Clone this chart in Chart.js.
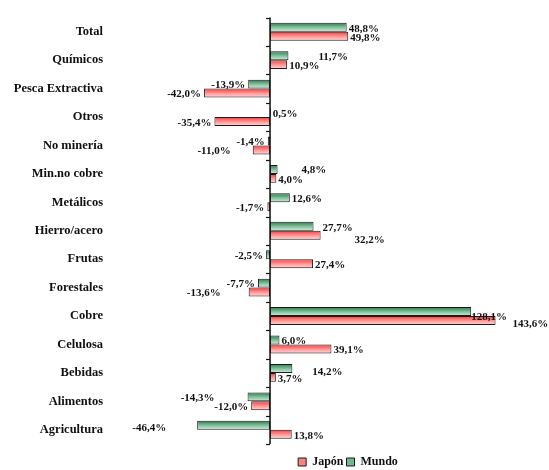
<!DOCTYPE html>
<html><head><meta charset="utf-8">
<script src="https://cdn.jsdelivr.net/npm/chart.js@4"></script>
<style>html,body{margin:0;padding:0;background:#fff}#wrap{width:549px;height:470px;position:relative}</style>
</head><body><div id="wrap"><canvas id="c"></canvas></div>
<script>
const categories = ['Total','Químicos','Pesca Extractiva','Otros','No minería','Min.no cobre','Metálicos','Hierro/acero','Frutas','Forestales','Cobre','Celulosa','Bebidas','Alimentos','Agricultura'];
const seriesNames = ['Mundo','Japón'];
const mundo = [48.8, 11.7, -13.9, 0.5, -1.4, 4.8, 12.6, 27.7, -2.5, -7.7, 128.1, 6.0, 14.2, -14.3, -46.4];
const japon = [49.8, 10.9, -42.0, -35.4, -11.0, 4.0, -1.7, 32.2, 27.4, -13.6, 143.6, 39.1, 3.7, -12.0, 13.8];

// label nudges (style only): "dataset,index": [dx, dy]
const nudges = {
  '0,1':[28,0], '0,5':[22,-1], '0,7':[7,0], '0,10':[-2,4], '0,12':[18,2], '0,13':[-30,0], '0,14':[-28,1],
  '1,4':[-19,0], '1,7':[32,3], '1,9':[-25,0], '1,10':[15,2]
};

const SERIF = '"Liberation Serif", "DejaVu Serif", serif';

const gradPlugin = {
  id: 'grad',
  beforeDatasetsDraw(chart) {
    const ctx = chart.ctx;
    chart.data.datasets.forEach((ds, d) => {
      const meta = chart.getDatasetMeta(d);
      meta.data.forEach(el => {
        const top = el.y - el.height / 2, bot = el.y + el.height / 2;
        const g = ctx.createLinearGradient(0, top, 0, bot);
        if (d === 0) {
          g.addColorStop(0, '#2a7a4c'); g.addColorStop(0.5, '#7fbf98'); g.addColorStop(1, '#d6eedf');
        } else {
          g.addColorStop(0, '#ff3838'); g.addColorStop(0.55, '#ff9c9c'); g.addColorStop(0.85, '#ffc6c6'); g.addColorStop(1, '#ff7070');
        }
        el.options = Object.assign({}, el.options, {backgroundColor: g});
      });
    });
  },
  afterDatasetsDraw(chart) {
    const ctx = chart.ctx, x = chart.scales.x, y = chart.scales.y, ca = chart.chartArea;
    const x0 = x.getPixelForValue(0);
    const band = y.getPixelForValue(1) - y.getPixelForValue(0);
    ctx.save();
    ctx.strokeStyle = '#111'; ctx.lineWidth = 1.5;
    ctx.beginPath(); ctx.moveTo(x0, ca.top); ctx.lineTo(x0, ca.bottom); ctx.stroke();
    ctx.lineWidth = 1.2;
    for (let i = 0; i <= categories.length; i++) {
      const yb = Math.round(y.getPixelForValue(i) - band / 2) + 0.5;
      ctx.beginPath(); ctx.moveTo(x0 - 4, yb); ctx.lineTo(x0, yb); ctx.stroke();
    }
    // value labels
    ctx.font = 'bold 11px ' + SERIF;
    ctx.fillStyle = '#111';
    ctx.textBaseline = 'middle';
    chart.data.datasets.forEach((ds, d) => {
      chart.getDatasetMeta(d).data.forEach((el, i) => {
        const v = ds.data[i];
        const txt = v.toFixed(1).replace('.', ',') + '%';
        const n = nudges[d + ',' + i] || [0, 0];
        let tx;
        if (v >= 0) { ctx.textAlign = 'left'; tx = el.x + 2; }
        else { ctx.textAlign = 'right'; tx = el.x - 3; }
        ctx.fillText(txt, tx + n[0], el.y + 1.5 + n[1]);
      });
    });
    ctx.restore();
  },
  afterLayout(chart) {
    const lg = chart.legend;
    if (!lg) return;
    const shift = 348 - (lg.left + lg.right) / 2;
    lg.left += shift; lg.right += shift;
    lg.top += 9; lg.bottom += 9;
  }
};

new Chart(document.getElementById('c'), {
  type: 'bar',
  data: {
    labels: categories,
    datasets: [
      {label: seriesNames[0], data: mundo, backgroundColor: '#6fb98b', borderColor: '#1a1a1a', borderWidth: 1, borderSkipped: false},
      {label: seriesNames[1], data: japon, backgroundColor: '#ff8080', borderColor: '#1a1a1a', borderWidth: 1, borderSkipped: false}
    ]
  },
  options: {
    indexAxis: 'y',
    responsive: true,
    maintainAspectRatio: false,
    animation: false,
    layout: {padding: {top: 13, right: 12, bottom: 1, left: 0}},
    datasets: {bar: {categoryPercentage: 0.63, barPercentage: 1}},
    scales: {
      x: {display: false, min: -100, max: 170},
      y: {
        grid: {display: false, drawTicks: false},
        border: {display: false},
        ticks: {padding: 10, color: '#111', font: {family: SERIF, size: 12.5, weight: 'bold'}},
        afterFit(scale) { scale.width = 113; }
      }
    },
    plugins: {
      legend: {
        position: 'bottom',
        reverse: true,
        labels: {boxWidth: 8, boxHeight: 8, padding: 3, color: '#111', font: {family: SERIF, size: 12, weight: 'bold'}}
      },
      tooltip: {enabled: false}
    }
  },
  plugins: [gradPlugin]
});
</script>
</body></html>
